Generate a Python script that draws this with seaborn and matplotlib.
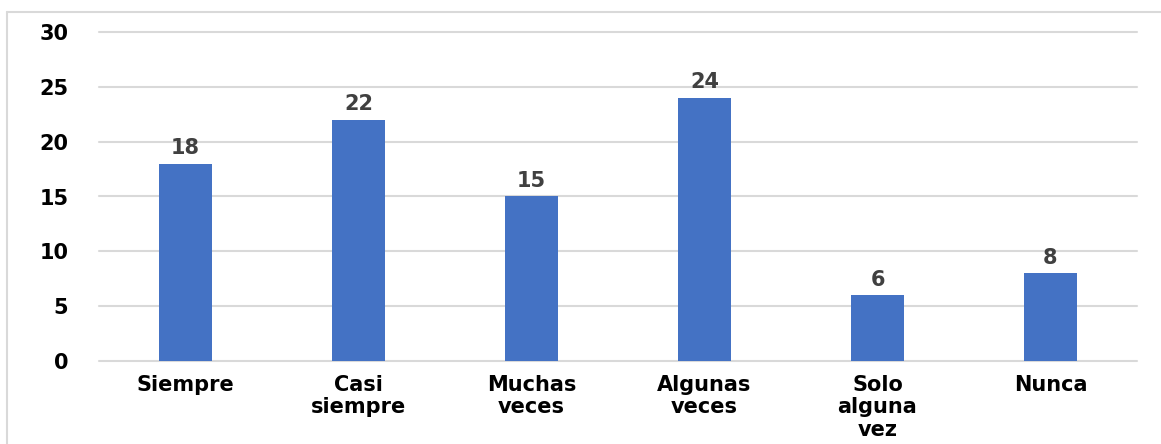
import seaborn as sns
import matplotlib.pyplot as plt
import pandas as pd
from matplotlib.lines import Line2D

categorias = ['Siempre', 'Casi\nsiempre', 'Muchas\nveces', 'Algunas\nveces', 'Solo\nalguna\nvez', 'Nunca']
valores = [18, 22, 15, 24, 6, 8]
ticks_y = [0, 5, 10, 15, 20, 25, 30]

sns.set_theme(style='white')
plt.rcParams['font.family'] = ['DejaVu Sans']

dados = pd.DataFrame({'categoria': categorias, 'valor': valores})

fig = plt.figure(figsize=(11.61, 4.44), dpi=100)
ax = fig.add_axes([99 / 1161, 1 - 361 / 444, (1137 - 99) / 1161, (361 - 32) / 444])

sns.barplot(data=dados, x='categoria', y='valor', color='#4472C4', saturation=1,
            width=0.31, linewidth=0, ax=ax, zorder=3)

ax.set_ylim(0, 30)
ax.set_yticks(ticks_y)
ax.set_xlim(-0.5, len(categorias) - 0.5)
ax.grid(axis='y', color='#D9D9D9', linewidth=1.5, zorder=0)
for linha in ax.get_ygridlines():
    linha.set_clip_on(False)
ax.set_axisbelow(True)
for lado in ax.spines.values():
    lado.set_visible(False)
ax.tick_params(axis='both', length=0)
ax.tick_params(axis='y', pad=22)
ax.tick_params(axis='x', pad=10)
ax.set_xlabel('')
ax.set_ylabel('')

for rotulo in ax.get_yticklabels():
    rotulo.set_fontsize(15)
    rotulo.set_fontweight('bold')
    rotulo.set_color('black')
for rotulo in ax.get_xticklabels():
    rotulo.set_fontsize(15)
    rotulo.set_fontweight('bold')
    rotulo.set_color('black')
    rotulo.set_linespacing(1.15)
    rotulo.set_verticalalignment('top')

for i, v in enumerate(valores):
    ax.annotate(str(v), (i, v), xytext=(0, 4), textcoords='offset points',
                ha='center', va='bottom', fontsize=15, fontweight='bold', color='#404040')

# moldura da figura (topo e esquerda)
fig.add_artist(Line2D([7 / 1161, 1], [1 - 12 / 444, 1 - 12 / 444], color='#D9D9D9', linewidth=1.5))
fig.add_artist(Line2D([7 / 1161, 7 / 1161], [0, 1 - 12 / 444], color='#D9D9D9', linewidth=1.5))

plt.savefig('out.png', dpi=100)
plt.close()
